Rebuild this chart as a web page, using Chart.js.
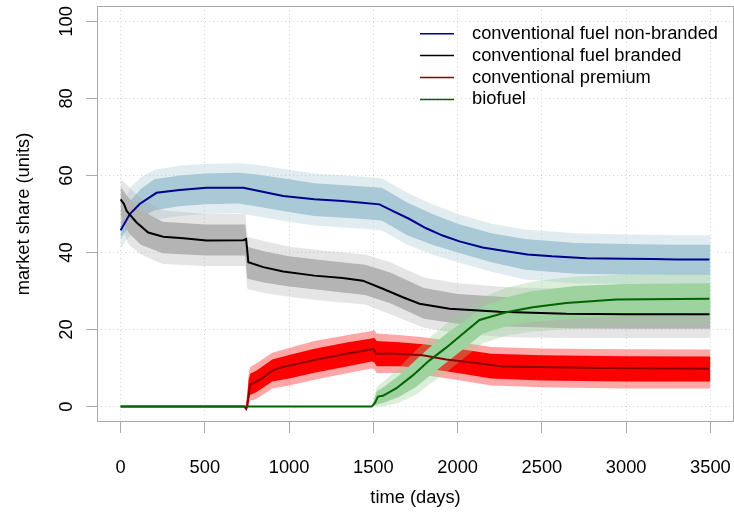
<!DOCTYPE html>
<html>
<head>
<meta charset="utf-8">
<script src="https://cdn.jsdelivr.net/npm/chart.js@4.4.0/dist/chart.umd.min.js"></script>
<style>
  html, body { margin: 0; padding: 0; background: #fff; }
</style>
</head>
<body>
<canvas id="shareChart" width="734" height="519"></canvas>
<script>
// tick labels
const xTicks = [0, 500, 1000, 1500, 2000, 2500, 3000, 3500];
const yTicks = [0, 20, 40, 60, 80, 100];

// mean lines
const nonBrandedDays = [0, 55, 113, 213, 350, 510, 728, 807, 965, 1150, 1318, 1418, 1536, 1614, 1714, 1813, 1911, 2011, 2148, 2308, 2415, 2560, 2763, 3000, 3158, 3300, 3494];
const nonBrandedShare = [45.8, 50, 52.6, 55.5, 56.2, 56.8, 56.8, 56.1, 54.7, 53.8, 53.4, 53.0, 52.5, 50.8, 48.7, 46.3, 44.4, 42.9, 41.3, 40.2, 39.5, 39.0, 38.5, 38.4, 38.3, 38.2, 38.2];

const brandedDays = [0, 20, 36, 95, 164, 253, 372, 510, 728, 745, 758, 847, 965, 1150, 1318, 1437, 1556, 1675, 1774, 1952, 2248, 2644, 3000, 3494];
const brandedShare = [53.8, 52.6, 50.8, 47.8, 45.2, 44.1, 43.7, 43.1, 43.2, 43.5, 37.5, 36.2, 35.1, 34.0, 33.4, 32.7, 30.6, 28.4, 26.7, 25.4, 24.6, 24.1, 24.0, 24.0];

const premiumDays = [0, 735, 745, 752, 769, 805, 844, 904, 963, 1141, 1339, 1487, 1500, 1517, 1635, 1793, 1932, 2110, 2268, 2466, 2861, 3494];
const premiumShare = [0, 0, -0.6, 0.3, 5.8, 6.4, 7.5, 9.4, 10.3, 12.0, 13.7, 14.8, 15.0, 13.7, 13.7, 13.3, 12.2, 11.3, 10.4, 10.3, 10.0, 9.8];

const biofuelDays = [0, 1490, 1510, 1527, 1556, 1635, 1734, 1833, 1932, 2031, 2130, 2288, 2446, 2644, 2941, 3494];
const biofuelShare = [0, 0, 1.0, 2.6, 2.8, 4.7, 8.1, 12.0, 15.3, 18.9, 22.5, 24.5, 25.8, 26.9, 27.8, 28.0];

// spread of the simulated runs around each line (dense core and sparse edge)
const nbCloudDays = [0, 30, 60, 120, 200, 350, 500, 700, 800, 1000, 1150, 1400, 1550, 1700, 1850, 2000, 2200, 2400, 2700, 3000, 3300, 3500];
const nbCoreHi = [48, 50.5, 53.5, 56.5, 59, 60, 60.5, 60.7, 60.3, 59, 58, 57.3, 56.8, 53, 50, 47.5, 45, 43.5, 42.5, 42.2, 42, 42];
const nbCoreLo = [43.5, 45.5, 47, 49, 51, 52, 52.5, 52.7, 52, 50.5, 49.5, 48.8, 48.3, 44.5, 42, 40, 37.5, 35.5, 34.5, 34.3, 34.2, 34.2];
const nbEdgeHi = [51, 54, 57, 59.5, 61.5, 62.5, 63, 63.2, 62.8, 61.5, 60.5, 59.8, 59.3, 55.5, 52.5, 50, 47.5, 46, 45, 44.7, 44.5, 44.5];
const nbEdgeLo = [41, 43, 44.5, 46.5, 48.5, 49.5, 50, 50.2, 49.5, 48, 47, 46.3, 45.8, 42, 39.5, 37.5, 35, 33, 32, 31.8, 31.7, 31.7];

const brCloudDays = [0, 50, 120, 250, 500, 740, 752, 850, 1000, 1200, 1450, 1600, 1800, 2000, 2300, 2700, 3000, 3500];
const brCoreHi = [57, 54, 51, 48, 47.3, 47.3, 41.5, 40.3, 39, 38, 36.8, 34.8, 30.8, 29.2, 28.4, 28, 27.9, 27.8];
const brCoreLo = [49.5, 45, 42, 39.8, 39.2, 39.2, 33.2, 32.2, 31.2, 30.2, 29, 26.8, 22.8, 21.5, 20.8, 20.3, 20.2, 20.2];
const brEdgeHi = [59, 57, 54, 51, 50, 50, 44, 43, 41.5, 40.5, 39.5, 37.5, 33.5, 32, 31, 30.5, 30.5, 30.5];
const brEdgeLo = [47, 42, 39.5, 37, 36.5, 36.5, 30.5, 29.5, 28.5, 27.5, 26.5, 24, 20.5, 19, 18, 17.8, 17.8, 17.8];

const prCloudDays = [745, 752, 760, 769, 805, 900, 1000, 1150, 1350, 1490, 1505, 1520, 1650, 1800, 2000, 2200, 2500, 3000, 3500];
const prCoreHi = [0.5, 3, 7, 8.5, 9.3, 12.2, 13.4, 15, 16.7, 17.7, 17.9, 17, 16.7, 16.2, 15, 13.7, 13.3, 13.1, 13];
const prCoreLo = [-0.6, -0.3, 2, 3, 3.7, 6.5, 7.3, 8.8, 10.5, 11.7, 11.5, 10.5, 10.5, 10, 8.7, 7.3, 6.8, 6.5, 6.5];
const prEdgeHi = [0.8, 4, 8.5, 10.3, 11.2, 14, 15.2, 17, 18.6, 19.6, 19.8, 19, 18.6, 18, 16.8, 15.5, 15.1, 14.9, 14.8];
const prEdgeLo = [-0.8, -0.6, 0.5, 1.5, 2, 4.7, 5.5, 7, 8.7, 9.9, 9.7, 8.7, 8.7, 8.2, 6.9, 5.5, 5, 4.7, 4.7];

const bioCloudDays = [1495, 1520, 1560, 1650, 1750, 1850, 1950, 2050, 2150, 2300, 2450, 2700, 3000, 3500];
const bioCoreHi = [0.5, 4, 5, 8, 12, 16, 19.5, 22.5, 26, 28.5, 30, 31.3, 31.8, 32];
const bioCoreLo = [0, 0.5, 1, 2.5, 5, 8.5, 12, 15.5, 19, 21, 22, 22.8, 23.5, 23.8];
const bioEdgeHi = [0.7, 5, 6.5, 10, 14.5, 18.5, 22, 25, 28.5, 31, 32.5, 33.8, 34.3, 34.5];
const bioEdgeLo = [0, 0, 0, 1, 3, 6.3, 9.5, 13, 16.5, 18.5, 19.5, 20.3, 21, 21.3];

function pts(days, vals) {
    return days.map((d, i) => ({ x: d, y: vals[i] }));
}

// two datasets per band: lower edge (invisible), upper edge filled down to it
function band(days, lo, hi, color, order) {
    return [
        { data: pts(days, lo), borderWidth: 0, pointRadius: 0, fill: false, order: order },
        { data: pts(days, hi), borderWidth: 0, pointRadius: 0, fill: '-1', backgroundColor: color, order: order }
    ];
}

function line(label, days, vals, color, order) {
    return { label: label, data: pts(days, vals), borderColor: color, borderWidth: 2, pointRadius: 0, fill: false, tension: 0, order: order };
}

const datasets = [].concat(
    band(nbCloudDays, nbEdgeLo, nbEdgeHi, 'rgba(154,192,205,0.3)', 20),
    band(nbCloudDays, nbCoreLo, nbCoreHi, 'rgb(168,201,213)', 19),
    band(brCloudDays, brEdgeLo, brEdgeHi, 'rgba(169,169,169,0.3)', 18),
    band(brCloudDays, brCoreLo, brCoreHi, 'rgb(180,180,180)', 17),
    band(prCloudDays, prEdgeLo, prEdgeHi, 'rgba(255,0,0,0.35)', 16),
    band(prCloudDays, prCoreLo, prCoreHi, 'rgb(255,0,0)', 15),
    band(bioCloudDays, bioEdgeLo, bioEdgeHi, 'rgba(150,206,150,0.35)', 14),
    band(bioCloudDays, bioCoreLo, bioCoreHi, 'rgb(158,210,158)', 13),
    [
        line('conventional fuel non-branded', nonBrandedDays, nonBrandedShare, '#00008b', 4),
        line('conventional fuel branded', brandedDays, brandedShare, '#000000', 3),
        line('conventional premium', premiumDays, premiumShare, '#8b0000', 2),
        line('biofuel', biofuelDays, biofuelShare, '#006400', 1)
    ]
);

const FONT = '18.3px "Liberation Sans", Arial, Helvetica, sans-serif';

// box, tick labels, axis titles and legend in the R style
const rDecor = {
    id: 'rDecor',
    afterDraw(chart) {
        const ctx = chart.ctx;
        const area = chart.chartArea;
        const xs = chart.scales.x;
        const ys = chart.scales.y;
        ctx.save();
        ctx.strokeStyle = '#aaaaaa';
        ctx.lineWidth = 1;
        ctx.strokeRect(area.left + 0.5, area.top + 0.5, area.right - area.left - 1, area.bottom - area.top - 1);

        ctx.font = FONT;
        ctx.fillStyle = '#000';
        ctx.textAlign = 'center';
        ctx.textBaseline = 'middle';
        xTicks.forEach(v => ctx.fillText(String(v), xs.getPixelForValue(v), 468));
        yTicks.forEach(v => {
            ctx.save();
            ctx.translate(67, ys.getPixelForValue(v));
            ctx.rotate(-Math.PI / 2);
            ctx.fillText(String(v), 0, 0);
            ctx.restore();
        });
        ctx.fillText('time (days)', (area.left + area.right) / 2, 498);
        ctx.save();
        ctx.translate(24, (area.top + area.bottom) / 2);
        ctx.rotate(-Math.PI / 2);
        ctx.fillText('market share (units)', 0, 0);
        ctx.restore();

        // legend
        ctx.textAlign = 'left';
        let row = 0;
        chart.data.datasets.forEach(ds => {
            if (!ds.label) return;
            const y = 33.7 + row * 21.9;
            ctx.strokeStyle = ds.borderColor;
            ctx.lineWidth = 1.5;
            ctx.beginPath();
            ctx.moveTo(420, y);
            ctx.lineTo(454, y);
            ctx.stroke();
            ctx.fillText(ds.label, 472, y);
            row++;
        });
        ctx.restore();
    }
};

const gridStyle = {
    color: '#d6d6d6',
    lineWidth: 1,
    drawTicks: true,
    tickLength: 11,
    tickColor: '#aaaaaa',
    tickWidth: 1,
    tickBorderDash: []
};

new Chart(document.getElementById('shareChart').getContext('2d'), {
    type: 'line',
    data: { datasets: datasets },
    options: {
        responsive: false,
        animation: false,
        layout: { padding: { top: 6, right: 0, bottom: 0, left: 0 } },
        plugins: {
            legend: { display: false },
            tooltip: { enabled: false },
            filler: { drawTime: 'beforeDatasetDraw' }
        },
        scales: {
            x: {
                type: 'linear',
                min: -140,
                max: 3640,
                afterBuildTicks: s => { s.ticks = xTicks.map(v => ({ value: v })); },
                afterFit: s => { s.height = 97; },
                ticks: { display: false },
                grid: gridStyle,
                border: { display: false, dash: [1, 3] }
            },
            y: {
                type: 'linear',
                min: -4,
                max: 104,
                afterBuildTicks: s => { s.ticks = yTicks.map(v => ({ value: v })); },
                afterFit: s => { s.width = 97; },
                ticks: { display: false },
                grid: gridStyle,
                border: { display: false, dash: [1, 3] }
            }
        }
    },
    plugins: [rDecor]
});
</script>
</body>
</html>
